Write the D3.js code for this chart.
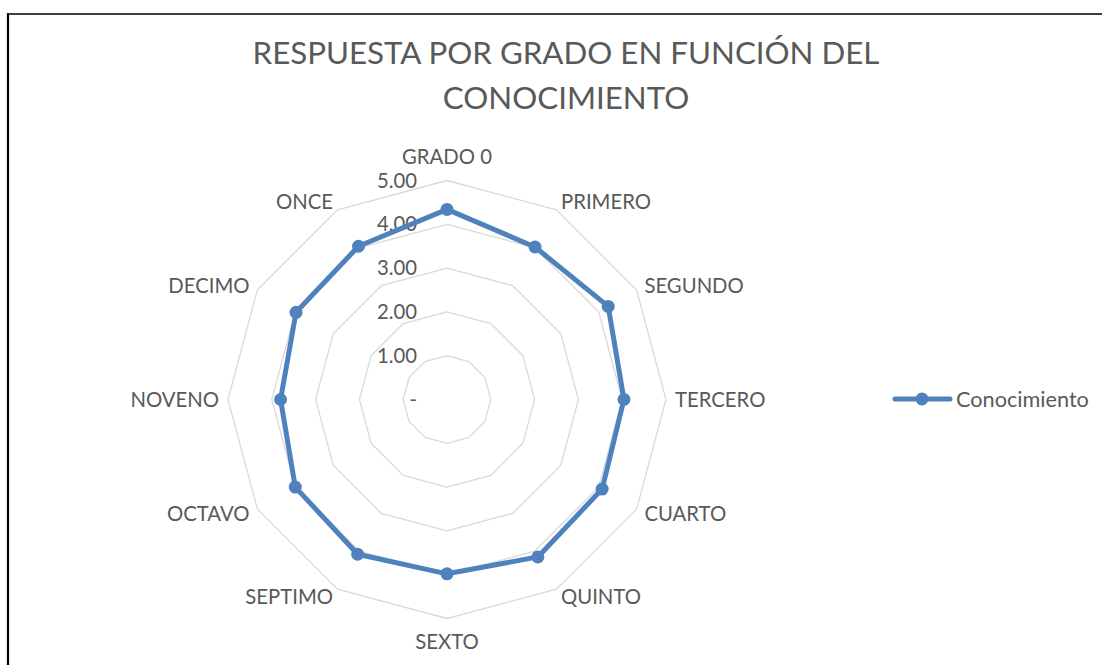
<!DOCTYPE html>
<html lang="es">
<head>
  <meta charset="utf-8"/>
  <title>Respuesta por grado</title>
  <style>
    html, body { margin: 0; padding: 0; background: #fff; }
    svg { display: block; }
    text { font-family: Lato, "Open Sans", sans-serif; fill: #595959; }
  </style>
</head>
<body>
<svg id="chart" width="1102" height="665"></svg>

<script src="https://cdn.jsdelivr.net/npm/d3@7/dist/d3.min.js"></script>
<script>

  // data
  let categories = ['GRADO 0', 'PRIMERO', 'SEGUNDO', 'TERCERO', 'CUARTO', 'QUINTO',
    'SEXTO', 'SEPTIMO', 'OCTAVO', 'NOVENO', 'DECIMO', 'ONCE'];
  let conocimiento = [4.34, 4.02, 4.25, 4.04, 4.09, 4.15, 3.98, 4.08, 4.00, 3.80, 3.98, 4.04];
  let tickValues = [0, 1, 2, 3, 4, 5];
  let tickLabels = ['-', '1.00', '2.00', '3.00', '4.00', '5.00'];
  let titleLines = ['RESPUESTA POR GRADO EN FUNCIÓN DEL', 'CONOCIMIENTO'];
  let seriesName = 'Conocimiento';

  let svg = d3.select('#chart');
  let blue = '#4f81bd';
  let cx = 447, cy = 399.5;

  let r = d3.scaleLinear().domain([0, 5]).range([0, 219]);
  let angle = d3.scaleLinear().domain([0, categories.length]).range([0, 2 * Math.PI]);

  function point(i, v) {
    let a = angle(i);
    return [cx + r(v) * Math.sin(a), cy - r(v) * Math.cos(a)];
  }

  // size a font so a sample string gets a given width
  function fitSize(sample, width) {
    let t = svg.append('text').attr('font-size', 20).text(sample);
    let w = t.node().getComputedTextLength();
    t.remove();
    return 20 * width / w;
  }

  // frame (only left and top edge visible)
  svg.append('line').attr('x1', 8).attr('x2', 8).attr('y1', 13.5).attr('y2', 665)
    .attr('stroke', '#000').attr('stroke-width', 2.2);
  svg.append('line').attr('x1', 7).attr('x2', 1102).attr('y1', 14).attr('y2', 14)
    .attr('stroke', '#000').attr('stroke-width', 1.6);

  // title
  let titleSize = fitSize(titleLines[0], 627);
  svg.append('g').selectAll('text')
    .data(titleLines)
    .enter()
    .append('text')
    .attr('x', 566)
    .attr('y', (d, i) => 64.3 + i * 44.7)
    .attr('text-anchor', 'middle')
    .attr('font-size', titleSize)
    .text(d => d);

  // grid rings
  let ring = d3.line();
  svg.append('g').selectAll('path')
    .data(tickValues.slice(1))
    .enter()
    .append('path')
    .attr('d', v => ring(categories.map((c, i) => point(i, v))) + 'Z')
    .attr('fill', 'none')
    .attr('stroke', '#d9d9d9')
    .attr('stroke-width', 1.3);

  // value labels
  let labelSize = fitSize('GRADO 0', 90);
  svg.append('g').selectAll('text')
    .data(tickValues)
    .enter()
    .append('text')
    .attr('x', cx - 30)
    .attr('y', v => cy - r(v))
    .attr('dy', '0.35em')
    .attr('text-anchor', 'end')
    .attr('font-size', labelSize)
    .text((v, i) => tickLabels[i]);

  // category labels
  svg.append('g').selectAll('text')
    .data(categories)
    .enter()
    .append('text')
    .attr('font-size', labelSize)
    .each(function (c, i) {
      let a = angle(i);
      let s = Math.sin(a), k = Math.cos(a);
      let p = point(i, 5);
      let x = p[0] + 9 * s;
      let y = p[1] - 9 * k;
      let anchor = 'middle';
      if (s > 0.1) anchor = 'start';
      else if (s < -0.1) anchor = 'end';
      else y -= 14.5 * Math.sign(k);
      d3.select(this)
        .attr('x', x)
        .attr('y', y)
        .attr('dy', '0.35em')
        .attr('text-anchor', anchor)
        .text(c);
    });

  // series
  let pts = conocimiento.map((v, i) => point(i, v));
  svg.append('path')
    .attr('d', ring(pts) + 'Z')
    .attr('fill', 'none')
    .attr('stroke', blue)
    .attr('stroke-width', 5)
    .attr('stroke-linejoin', 'round');

  svg.append('g').selectAll('circle')
    .data(pts)
    .enter()
    .append('circle')
    .attr('cx', d => d[0])
    .attr('cy', d => d[1])
    .attr('r', 6.5)
    .attr('fill', blue);

  // legend
  let legend = svg.append('g');
  legend.append('line').attr('x1', 895).attr('x2', 950).attr('y1', 399).attr('y2', 399)
    .attr('stroke', blue).attr('stroke-width', 5).attr('stroke-linecap', 'round');
  legend.append('circle').attr('cx', 922).attr('cy', 399).attr('r', 6.5).attr('fill', blue);
  legend.append('text')
    .attr('x', 956)
    .attr('y', 399)
    .attr('dy', '0.35em')
    .attr('font-size', Math.min(fitSize(seriesName, 133), labelSize * 1.1))
    .text(seriesName);

</script>
</body>
</html>
